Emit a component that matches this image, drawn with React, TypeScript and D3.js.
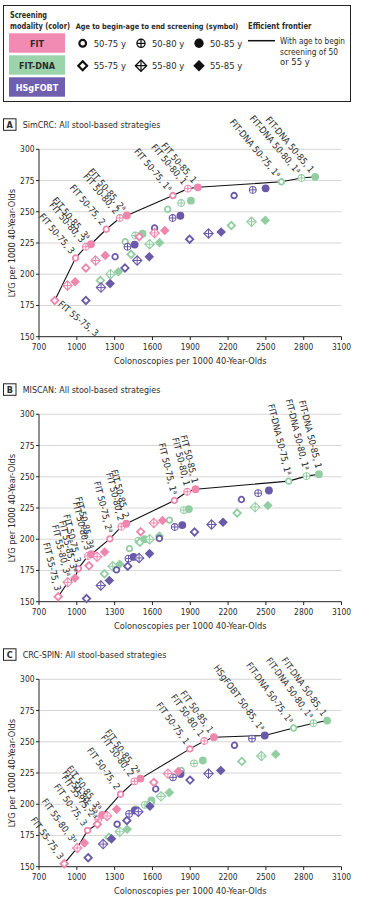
import React from "react";
import * as d3 from "d3";

// age range -> symbol, modality -> colour
const AGES = ["50-75", "50-80", "50-85", "55-75", "55-80", "55-85"];
const MODALITIES = ["FIT", "FIT-DNA", "HSgFOBT"];
const COLORS: Record<string, string> = {
  FIT: "#ef86ae",
  "FIT-DNA": "#92cea2",
  HSgFOBT: "#6a59a9",
};
const BOX_COLORS: Record<string, string> = {
  FIT: "#f28bb3",
  "FIT-DNA": "#9bd3ab",
  HSgFOBT: "#6f5fae",
};
const X_TICKS = [700, 1000, 1300, 1600, 1900, 2200, 2500, 2800, 3100];
const Y_TICKS = [150, 175, 200, 225, 250, 275, 300];

// [age, interval (y), colonoscopies, LYG]
type Pt = [string, number, number, number];

const simcrcFIT: Pt[] = [
  ["55-75", 3, 825, 179], ["55-80", 3, 926, 191], ["55-85", 3, 987, 194],
  ["50-75", 3, 990, 213], ["50-80", 3, 1072, 222], ["50-85", 3, 1112, 224],
  ["55-75", 2, 1072, 205], ["55-80", 2, 1149, 211], ["55-85", 2, 1226, 215],
  ["50-75", 2, 1234, 236], ["50-80", 2, 1341, 245], ["50-85", 2, 1397, 247],
  ["55-75", 1, 1495, 230], ["55-80", 1, 1617, 233], ["55-85", 1, 1698, 235],
  ["50-75", 1, 1762, 263], ["50-80", 1, 1881, 268.5], ["50-85", 1, 1960, 269.6],
];
const simcrcDNA: Pt[] = [
  ["55-75", 3, 1187, 195], ["55-80", 3, 1267, 200], ["55-85", 3, 1330, 202],
  ["50-75", 3, 1384, 226], ["50-80", 3, 1463, 231], ["50-85", 3, 1522, 232.5],
  ["55-75", 2, 1431, 216], ["55-80", 2, 1578, 224], ["55-85", 2, 1656, 225.3],
  ["50-75", 2, 1721, 252], ["50-80", 2, 1828, 257], ["50-85", 2, 1905, 258.9],
  ["55-75", 1, 2226, 239], ["55-80", 1, 2386, 242], ["55-85", 1, 2495, 243.2],
  ["50-75", 1, 2623, 274], ["50-80", 1, 2782, 277], ["50-85", 1, 2891, 278],
];
const simcrcHS: Pt[] = [
  ["55-75", 3, 1072, 179], ["55-80", 3, 1192, 189.3], ["55-85", 3, 1264, 192.5],
  ["50-75", 3, 1304, 214], ["50-80", 3, 1402, 222], ["50-85", 3, 1459, 223.7],
  ["55-75", 2, 1382, 205], ["55-80", 2, 1479, 211], ["55-85", 2, 1575, 214],
  ["50-75", 2, 1617, 237], ["50-80", 2, 1760, 245], ["50-85", 2, 1822, 246.8],
  ["55-75", 1, 1895, 228], ["55-80", 1, 2045, 232.6], ["55-85", 1, 2145, 233.8],
  ["50-75", 1, 2248, 263], ["50-80", 1, 2396, 267.5], ["50-85", 1, 2498, 268.8],
];

const miscanFIT: Pt[] = [
  ["55-75", 3, 852, 154], ["55-80", 3, 928, 165.5], ["55-85", 3, 985, 169],
  ["50-75", 3, 1012, 176.5], ["50-80", 3, 1088, 186.6], ["50-85", 3, 1115, 188],
  ["55-75", 2, 1097, 178.7], ["55-80", 2, 1161, 186], ["55-85", 2, 1221, 189.8],
  ["50-75", 2, 1262, 200.3], ["50-80", 2, 1353, 210], ["50-85", 2, 1392, 212.4],
  ["55-75", 1, 1507, 206], ["55-80", 1, 1611, 213], ["55-85", 1, 1680, 215],
  ["50-75", 1, 1774, 231], ["50-80", 1, 1876, 238], ["50-85", 1, 1942, 240],
];
const miscanDNA: Pt[] = [
  ["55-75", 3, 1219, 172.3], ["55-80", 3, 1285, 178.3], ["55-85", 3, 1340, 180],
  ["50-75", 3, 1418, 192.5], ["50-80", 3, 1488, 198.8], ["50-85", 3, 1537, 200],
  ["55-75", 2, 1500, 197.5], ["55-80", 2, 1578, 200], ["55-85", 2, 1655, 202.6],
  ["50-75", 2, 1735, 215.3], ["50-80", 2, 1849, 223.3], ["50-85", 2, 1889, 224.1],
  ["55-75", 1, 2272, 221], ["55-80", 1, 2415, 225.7], ["55-85", 1, 2516, 227],
  ["50-75", 1, 2681, 246.5], ["50-80", 1, 2822, 250.5], ["50-85", 1, 2921, 252],
];
const miscanHS: Pt[] = [
  ["55-75", 3, 1077, 152.5], ["55-80", 3, 1190, 163], ["55-85", 3, 1258, 167],
  ["50-75", 3, 1315, 175.5], ["50-80", 3, 1410, 184.5], ["50-85", 3, 1450, 185.8],
  ["55-75", 2, 1404, 178.4], ["55-80", 2, 1494, 185], ["55-85", 2, 1577, 188.5],
  ["50-75", 2, 1655, 200.6], ["50-80", 2, 1777, 209.8], ["50-85", 2, 1837, 211.3],
  ["55-75", 1, 1934, 205.8], ["55-80", 1, 2069, 211.8], ["55-85", 1, 2160, 213.6],
  ["50-75", 1, 2306, 231.8], ["50-80", 1, 2439, 236.9], ["50-85", 1, 2524, 239],
];

const spinFIT: Pt[] = [
  ["55-75", 3, 900, 152.4], ["55-80", 3, 1003, 165], ["55-85", 3, 1060, 169],
  ["50-75", 3, 1085, 179], ["50-80", 3, 1170, 188], ["50-85", 3, 1201, 191.4],
  ["55-75", 2, 1163, 184], ["55-80", 2, 1240, 190.6], ["55-85", 2, 1316, 196],
  ["50-75", 2, 1347, 208], ["50-80", 2, 1457, 218.3], ["50-85", 2, 1505, 220.5],
  ["55-75", 1, 1611, 217.5], ["55-80", 1, 1723, 224.5], ["55-85", 1, 1805, 226.2],
  ["50-75", 1, 1897, 244.3], ["50-80", 1, 2011, 250.6], ["50-85", 1, 2087, 253.6],
];
const spinDNA: Pt[] = [
  ["55-75", 3, 1255, 173.5], ["55-80", 3, 1341, 178], ["55-85", 3, 1400, 180],
  ["50-75", 3, 1467, 196], ["50-80", 3, 1540, 199.5], ["50-85", 3, 1592, 203],
  ["55-75", 2, 1585, 201], ["55-80", 2, 1668, 206.3], ["55-85", 2, 1734, 209.3],
  ["50-75", 2, 1829, 227], ["50-80", 2, 1930, 232.7], ["50-85", 2, 2000, 235],
  ["55-75", 1, 2309, 234.3], ["55-80", 1, 2464, 238.6], ["55-85", 1, 2578, 240],
  ["50-75", 1, 2720, 261], ["50-80", 1, 2878, 264.8], ["50-85", 1, 2986, 267],
];
const spinHS: Pt[] = [
  ["55-75", 3, 1090, 157.2], ["55-80", 3, 1209, 168.1], ["55-85", 3, 1275, 172.3],
  ["50-75", 3, 1320, 184], ["50-80", 3, 1415, 192.3], ["50-85", 3, 1460, 195],
  ["55-75", 2, 1397, 187], ["55-80", 2, 1488, 194], ["55-85", 2, 1580, 198.4],
  ["50-75", 2, 1626, 212.2], ["50-80", 2, 1763, 221.5], ["50-85", 2, 1823, 224.2],
  ["55-75", 1, 1898, 219.3], ["55-80", 1, 2045, 224.5], ["55-85", 1, 2142, 227],
  ["50-75", 1, 2251, 247.2], ["50-80", 1, 2390, 252.5], ["50-85", 1, 2491, 255],
];

// efficient frontier: [modality, age, interval, footnote a, label below]
type Fr = [string, string, number, boolean, boolean?];
const simcrcFrontier: Fr[] = [
  ["FIT", "55-75", 3, false, true], ["FIT", "50-75", 3, false], ["FIT", "50-80", 3, false],
  ["FIT", "50-85", 3, true], ["FIT", "50-75", 2, false], ["FIT", "50-80", 2, false],
  ["FIT", "50-85", 2, true], ["FIT", "50-75", 1, true], ["FIT", "50-80", 1, false],
  ["FIT", "50-85", 1, false], ["FIT-DNA", "50-75", 1, true], ["FIT-DNA", "50-80", 1, true],
  ["FIT-DNA", "50-85", 1, false],
];
const miscanFrontier: Fr[] = [
  ["FIT", "55-75", 3, false], ["FIT", "55-80", 3, true], ["FIT", "55-85", 3, true],
  ["FIT", "50-75", 3, false], ["FIT", "50-80", 3, false], ["FIT", "50-85", 3, true],
  ["FIT", "50-75", 2, true], ["FIT", "50-80", 2, false], ["FIT", "50-85", 2, false],
  ["FIT", "50-75", 1, true], ["FIT", "50-80", 1, false], ["FIT", "50-85", 1, false],
  ["FIT-DNA", "50-75", 1, true], ["FIT-DNA", "50-80", 1, true], ["FIT-DNA", "50-85", 1, false],
];
const spinFrontier: Fr[] = [
  ["FIT", "55-75", 3, false], ["FIT", "55-80", 3, true], ["FIT", "50-75", 3, false],
  ["FIT", "55-75", 2, true], ["FIT", "50-80", 3, true], ["FIT", "50-85", 3, true],
  ["FIT", "50-75", 2, false], ["FIT", "50-80", 2, false], ["FIT", "50-85", 2, true],
  ["FIT", "50-75", 1, false], ["FIT", "50-80", 1, false], ["FIT", "50-85", 1, false],
  ["HSgFOBT", "50-85", 1, true], ["FIT-DNA", "50-75", 1, true], ["FIT-DNA", "50-80", 1, true],
  ["FIT-DNA", "50-85", 1, false],
];

const PANELS = [
  { letter: "A", title: "SimCRC: All stool-based strategies", top: 149.3, angle: 50,
    data: { FIT: simcrcFIT, "FIT-DNA": simcrcDNA, HSgFOBT: simcrcHS }, frontier: simcrcFrontier },
  { letter: "B", title: "MISCAN: All stool-based strategies", top: 414.3, angle: 76,
    data: { FIT: miscanFIT, "FIT-DNA": miscanDNA, HSgFOBT: miscanHS }, frontier: miscanFrontier },
  { letter: "C", title: "CRC-SPIN: All stool-based strategies", top: 679.3, angle: 54,
    data: { FIT: spinFIT, "FIT-DNA": spinDNA, HSgFOBT: spinHS }, frontier: spinFrontier },
];

const FONT = "'Liberation Sans Narrow', 'DejaVu Sans Condensed', sans-serif";
const TXT = "#2b2b2b";
const PLOT_H = 187.4;

const diamond = (h: number) => `M0,${-h}L${h},0L0,${h}L${-h},0Z`;

function Marker({ age, color, x, y, s = 1 }: any) {
  const t = `translate(${x},${y}) scale(${s})`;
  if (age === "50-75")
    return <circle transform={t} r={2.8} fill="#fff" stroke={color} strokeWidth={1.8} />;
  if (age === "50-80")
    return (
      <g transform={t}>
        <circle r={3.4} fill="#fff" stroke={color} strokeWidth={1.1} />
        <path d="M-3.4,0H3.4M0,-3.4V3.4" stroke={color} strokeWidth={1} />
      </g>
    );
  if (age === "50-85") return <circle transform={t} r={3.9} fill={color} />;
  if (age === "55-75")
    return <path transform={t} d={diamond(3.7)} fill="#fff" stroke={color} strokeWidth={1.8} />;
  if (age === "55-80")
    return (
      <g transform={t}>
        <path d={diamond(4.7)} fill="#fff" stroke={color} strokeWidth={1.1} />
        <path d="M-4.7,0H4.7M0,-4.7V4.7" stroke={color} strokeWidth={1} />
      </g>
    );
  return <path transform={t} d={diamond(4.8)} fill={color} />;
}

function Panel({ p }: any) {
  const x = d3.scaleLinear().domain([700, 3100]).range([39, 341.5]);
  const y = d3.scaleLinear().domain([150, 300]).range([p.top + PLOT_H, p.top]);
  const find = (f: Fr) => (p.data[f[0]] as Pt[]).find((d) => d[0] === f[1] && d[1] === f[2])!;
  const frontPts = p.frontier.map((f: Fr) => find(f));
  const line = d3
    .line<Pt>()
    .x((d) => x(d[2]))
    .y((d) => y(d[3]));
  const bottom = p.top + PLOT_H;
  return (
    <g>
      <rect x={3.5} y={p.top - 30.5} width={12.5} height={11.5} fill="#fff" stroke="#222" strokeWidth={1} />
      <text x={9.75} y={p.top - 21.3} textAnchor="middle" fontSize={9} fontWeight="bold" fill={TXT}>
        {p.letter}
      </text>
      <text x={22.7} y={p.top - 21.5} fontSize={8.9} fill={TXT}>
        {p.title}
      </text>
      {Y_TICKS.filter((t) => t > 150).map((t) => (
        <line key={t} x1={x(700)} x2={x(3100)} y1={y(t)} y2={y(t)} stroke="#d6d6d6" strokeWidth={1} />
      ))}
      <line x1={x(700)} x2={x(700)} y1={p.top} y2={bottom} stroke="#222" />
      <line x1={x(700)} x2={x(3100)} y1={bottom} y2={bottom} stroke="#222" />
      {Y_TICKS.map((t) => (
        <g key={t}>
          <line x1={x(700) - 3} x2={x(700)} y1={y(t)} y2={y(t)} stroke="#222" />
          <text x={x(700) - 4.5} y={y(t) + 3} textAnchor="end" fontSize={8.4} fill={TXT}>
            {t}
          </text>
        </g>
      ))}
      {X_TICKS.map((t) => (
        <g key={t}>
          <line x1={x(t)} x2={x(t)} y1={bottom} y2={bottom + 3.3} stroke="#222" />
          <text x={x(t)} y={bottom + 13.5} textAnchor="middle" fontSize={8.4} fill={TXT}>
            {t}
          </text>
        </g>
      ))}
      <text x={(x(700) + x(3100)) / 2} y={bottom + 27.5} textAnchor="middle" fontSize={9.2} fill={TXT}>
        Colonoscopies per 1000 40-Year-Olds
      </text>
      <text
        transform={`translate(15,${p.top + PLOT_H / 2}) rotate(-90)`}
        textAnchor="middle"
        fontSize={9.2}
        fill={TXT}
      >
        LYG per 1000 40-Year-Olds
      </text>
      <path d={line(frontPts) || ""} fill="none" stroke="#111" strokeWidth={1.1} />
      {["FIT-DNA", "HSgFOBT", "FIT"].map((m) =>
        (p.data[m] as Pt[]).map((d, i) => (
          <Marker key={m + i} age={d[0]} color={COLORS[m]} x={x(d[2])} y={y(d[3])} />
        ))
      )}
      {p.frontier.map((f: Fr, i: number) => {
        const d = frontPts[i];
        const below = !!f[4];
        const ang = below ? 40 : p.angle;
        return (
          <text
            key={i}
            transform={`translate(${x(d[2])},${y(d[3])}) rotate(${ang})`}
            x={below ? 5 : -6}
            dy="0.2em"
            textAnchor={below ? "start" : "end"}
            fontSize={9.2}
            fill={TXT}
          >
            {`${f[0]} ${f[1]}, ${f[2]}`}
            {f[3] ? (
              <tspan fontSize={6} dy="-3">
                a
              </tspan>
            ) : null}
          </text>
        );
      })}
    </g>
  );
}

function Legend() {
  const rows = [43.3, 65.7];
  const cols = [82.7, 141, 199];
  return (
    <g>
      <rect x={3.5} y={5.5} width={347} height={96} fill="#fff" stroke="#222" strokeWidth={1} />
      <g fontWeight="bold" fontSize={9} fill={TXT}>
        <text x={10} y={18} textLength={37} lengthAdjust="spacingAndGlyphs">Screening</text>
        <text x={10} y={28.5} textLength={60} lengthAdjust="spacingAndGlyphs">modality (color)</text>
        <text x={75.7} y={28.5} fontSize={7.6} textLength={162.5} lengthAdjust="spacingAndGlyphs">
          Age to begin-age to end screening (symbol)
        </text>
        <text x={248} y={28.5} textLength={63.5} lengthAdjust="spacingAndGlyphs">Efficient frontier</text>
      </g>
      {MODALITIES.map((m, i) => (
        <g key={m}>
          <rect x={9} y={33.3 + i * 22} width={56} height={19.4} fill={BOX_COLORS[m]} />
          <text
            x={37}
            y={33.3 + i * 22 + 13.2}
            textAnchor="middle"
            fontSize={9}
            fontWeight="bold"
            fill={m === "HSgFOBT" ? "#fff" : TXT}
          >
            {m}
          </text>
        </g>
      ))}
      {AGES.map((a, i) => {
        const cx = cols[i % 3];
        const cy = rows[Math.floor(i / 3)];
        return (
          <g key={a}>
            <Marker age={a} color="#111" x={cx} y={cy} s={1.2} />
            <text x={cx + 11} y={cy + 3.3} fontSize={9.4} fill={TXT}>
              {a} y
            </text>
          </g>
        );
      })}
      <line x1={248} x2={275} y1={40.7} y2={40.7} stroke="#111" strokeWidth={1.5} />
      <g fontSize={9.4} fill={TXT}>
        <text x={280} y={44.2} textLength={65} lengthAdjust="spacingAndGlyphs">With age to begin</text>
        <text x={280} y={54.8} textLength={58} lengthAdjust="spacingAndGlyphs">screening of 50</text>
        <text x={280} y={65.4}>or 55 y</text>
      </g>
    </g>
  );
}

export default function App() {
  return (
    <svg
      width={371}
      height={900}
      style={{ position: "absolute", left: 0, top: 0, fontFamily: FONT }}
      fontFamily={FONT}
    >
      <rect width={371} height={900} fill="#fff" />
      <Legend />
      {PANELS.map((p) => (
        <Panel key={p.letter} p={p} />
      ))}
    </svg>
  );
}
